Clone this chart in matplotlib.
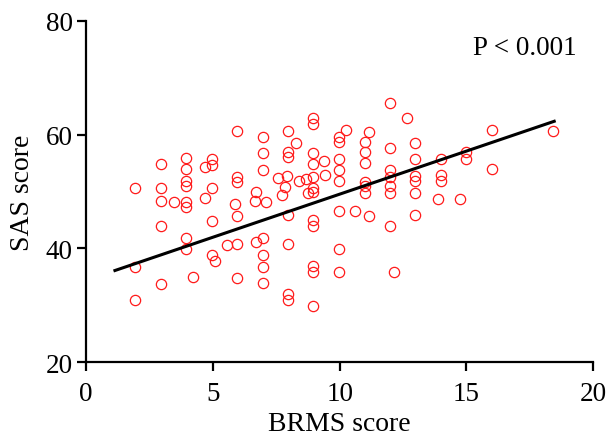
import numpy as np
import matplotlib
matplotlib.use("Agg")
import matplotlib.pyplot as plt

# BRMS score vs SAS score
brms = [1.94, 1.94, 1.94, 2.94, 2.94, 2.94, 2.94, 2.94, 3.47, 3.94,
        3.94, 3.94, 3.94, 3.94, 3.94, 3.94, 3.94, 4.20, 4.68, 4.70,
        4.97, 4.97, 4.97, 4.97, 4.97, 5.07, 5.54, 5.87, 5.96, 5.96,
        5.96, 5.96, 5.96, 5.96, 6.69, 6.67, 6.70, 6.99, 6.99, 6.99,
        6.96, 6.96, 6.96, 6.96, 7.10, 7.55, 7.72, 7.96, 7.96, 7.96,
        7.93, 7.85, 7.95, 7.96, 7.96, 7.96, 8.29, 8.40, 8.68, 8.76,
        8.96, 8.96, 8.96, 8.96, 8.96, 8.96, 8.94, 8.96, 8.96, 8.96,
        8.96, 8.96, 9.37, 9.44, 9.97, 9.97, 9.97, 9.97, 9.97, 9.97,
        9.96, 9.97, 10.24, 10.62, 10.98, 10.98, 10.98, 10.98, 10.98, 10.98,
        11.14, 11.14, 11.98, 11.98, 11.98, 11.98, 11.98, 11.98, 11.98, 12.14,
        12.66, 12.98, 12.98, 12.98, 12.98, 12.98, 12.98, 13.87, 13.99, 13.99,
        13.99, 14.74, 15.0, 15.0, 16.0, 16.0, 18.41]
sas = [50.6, 36.8, 30.9, 54.8, 50.6, 48.3, 43.9, 33.8, 48.1, 55.9,
       54.0, 51.9, 50.9, 48.1, 47.2, 41.8, 39.8, 34.9, 54.3, 48.9,
       55.7, 54.7, 50.7, 44.8, 38.9, 37.8, 40.5, 47.8, 60.6, 52.5,
       51.7, 45.7, 40.8, 34.8, 41.1, 48.3, 49.9, 59.6, 56.7, 53.8,
       41.8, 38.8, 36.8, 33.9, 48.2, 52.4, 49.4, 60.6, 57.0, 56.0,
       52.8, 50.8, 45.8, 40.8, 32.0, 30.9, 58.6, 51.9, 52.2, 49.7,
       62.9, 61.8, 56.8, 54.9, 52.5, 50.6, 49.9, 44.9, 44.0, 36.9,
       35.8, 29.8, 55.4, 52.9, 59.6, 58.7, 55.7, 53.8, 51.9, 46.5,
       39.8, 35.9, 60.9, 46.6, 58.7, 56.9, 55.0, 51.7, 50.9, 49.7,
       60.5, 45.7, 65.6, 57.7, 53.8, 52.6, 50.9, 49.8, 44.0, 35.9,
       62.9, 58.6, 55.8, 52.7, 51.8, 49.7, 45.8, 48.6, 55.7, 52.9,
       51.8, 48.6, 57.0, 55.8, 60.8, 53.9, 60.6]

# regression line as drawn in the reference
fit_x = [1.14, 18.46]
fit_slope = 1.516
fit_intercept = 34.37

x_ticks = [0, 5, 10, 15, 20]
y_ticks = [20, 40, 60, 80]
p_text = "P < 0.001"

plt.rcParams["font.family"] = ["Liberation Serif", "DejaVu Serif"]

fig = plt.figure(figsize=(6.11, 4.39), dpi=100)
ax = fig.add_axes([0.1408, 0.1731, 0.8302, 0.7768])

ax.plot(brms, sas, "o", ms=7.4, mfc="none", mec="#ff1a1a", mew=0.9,
        clip_on=False, zorder=3)
fx = np.array(fit_x)
ax.plot(fx, fit_slope * fx + fit_intercept, color="black", lw=2.2, zorder=4)

ax.set_xlim(0, 20)
ax.set_ylim(20, 80)
ax.set_xticks(x_ticks)
ax.set_yticks(y_ticks)
for s in ("top", "right"):
    ax.spines[s].set_visible(False)
for s in ("left", "bottom"):
    ax.spines[s].set_linewidth(1.6)
ax.tick_params(length=6.5, width=1.6, labelsize=19.5)
ax.tick_params(axis="x", pad=7)
ax.tick_params(axis="y", pad=3)

ax.set_xlabel("BRMS score", fontsize=20, labelpad=4)
ax.set_ylabel("SAS score", fontsize=20, labelpad=8)
ax.text(0.763, 0.922, p_text, transform=ax.transAxes, fontsize=19.5,
        ha="left", va="center")

fig.savefig("out.png", dpi=100)
